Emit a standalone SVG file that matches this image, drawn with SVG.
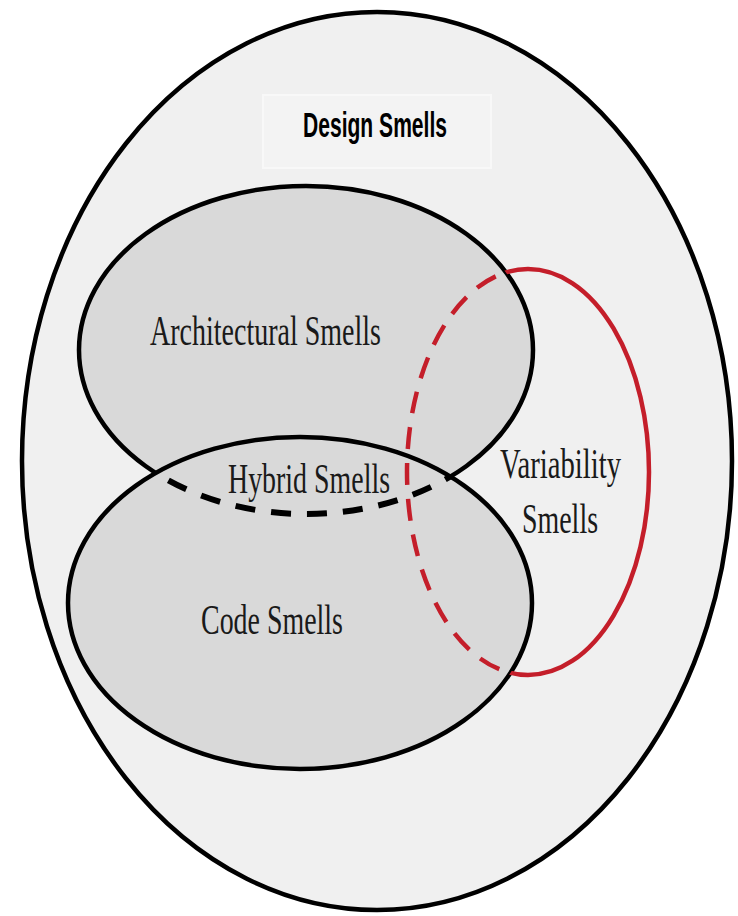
<svg xmlns="http://www.w3.org/2000/svg" width="738" height="916" viewBox="0 0 738 916">
  <style>
    .outline { fill: none; stroke: #000000; stroke-width: 4.5; }
    .set { fill: #d9d9d9; }
    .dash-black { fill: none; stroke: #000000; stroke-width: 6; stroke-dasharray: 20 16; }
    .red-solid { fill: none; stroke: #c41e2a; stroke-width: 4.5; }
    .red-dash { fill: none; stroke: #c41e2a; stroke-width: 4.5; stroke-dasharray: 22 14; }
    .label { font-family: "Liberation Serif", "Times New Roman", serif; font-size: 42px; fill: #1a1a1a; }
    .title { font-family: "Liberation Sans", Arial, sans-serif; font-weight: bold; font-size: 35px; fill: #000000; }
  </style>
  <defs>
    <!-- region inside the Code Smells set -->
    <clipPath id="inCode">
      <ellipse cx="300" cy="603" rx="232" ry="166"/>
    </clipPath>
    <!-- region outside the Code Smells set -->
    <mask id="outCode" maskUnits="userSpaceOnUse" x="0" y="0" width="738" height="916">
      <rect x="0" y="0" width="738" height="916" fill="#ffffff"/>
      <ellipse cx="300" cy="603" rx="232" ry="166" fill="#000000"/>
    </mask>
    <!-- region covered by the Architectural or Code sets -->
    <clipPath id="inSets">
      <ellipse cx="306" cy="350" rx="227" ry="164"/>
      <ellipse cx="300" cy="603" rx="232" ry="166"/>
    </clipPath>
    <mask id="outSets" maskUnits="userSpaceOnUse" x="0" y="0" width="738" height="916">
      <rect x="0" y="0" width="738" height="916" fill="#ffffff"/>
      <ellipse cx="306" cy="350" rx="227" ry="164" fill="#000000"/>
      <ellipse cx="300" cy="603" rx="232" ry="166" fill="#000000"/>
    </mask>
  </defs>

  <rect x="0" y="0" width="738" height="916" fill="#ffffff"/>

  <!-- Design Smells: the enclosing set -->
  <g id="design-smells">
    <ellipse cx="377" cy="461" rx="355" ry="449" fill="#f0f0f0" stroke="#000000" stroke-width="4.5"/>
    <rect x="263" y="95" width="228" height="73" fill="#f3f3f3" stroke="#f8f8f8" stroke-width="2"/>
    <text class="title" x="303" y="137" textLength="144" lengthAdjust="spacingAndGlyphs">Design Smells</text>
  </g>

  <!-- Architectural Smells -->
  <g id="architectural-smells">
    <ellipse class="set" cx="306" cy="350" rx="227" ry="164"/>
  </g>

  <!-- Code Smells -->
  <g id="code-smells">
    <ellipse class="set" cx="300" cy="603" rx="232" ry="166"/>
    <ellipse class="outline" cx="300" cy="603" rx="232" ry="166"/>
    <text class="label" x="201" y="634" textLength="142" lengthAdjust="spacingAndGlyphs">Code Smells</text>
  </g>

  <!-- Architectural outline: solid outside Code, dashed where it overlaps -->
  <g id="architectural-outline">
    <ellipse class="outline" cx="306" cy="350" rx="227" ry="164" mask="url(#outCode)"/>
    <text class="label" x="150" y="345" textLength="231" lengthAdjust="spacingAndGlyphs">Architectural Smells</text>
  </g>

  <!-- Hybrid Smells: overlap of Architectural and Code -->
  <g id="hybrid-smells">
    <ellipse class="dash-black" cx="306" cy="350" rx="227" ry="164" clip-path="url(#inCode)"/>
    <text class="label" x="228" y="493" textLength="162" lengthAdjust="spacingAndGlyphs">Hybrid Smells</text>
  </g>

  <!-- Variability Smells -->
  <g id="variability-smells">
    <ellipse class="red-solid" cx="528" cy="472" rx="121" ry="203" mask="url(#outSets)"/>
    <ellipse class="red-dash" cx="528" cy="472" rx="121" ry="203" clip-path="url(#inSets)"/>
    <text class="label" x="500" y="478" textLength="121" lengthAdjust="spacingAndGlyphs">Variability</text>
    <text class="label" x="522" y="533" textLength="76" lengthAdjust="spacingAndGlyphs">Smells</text>
  </g>
</svg>
